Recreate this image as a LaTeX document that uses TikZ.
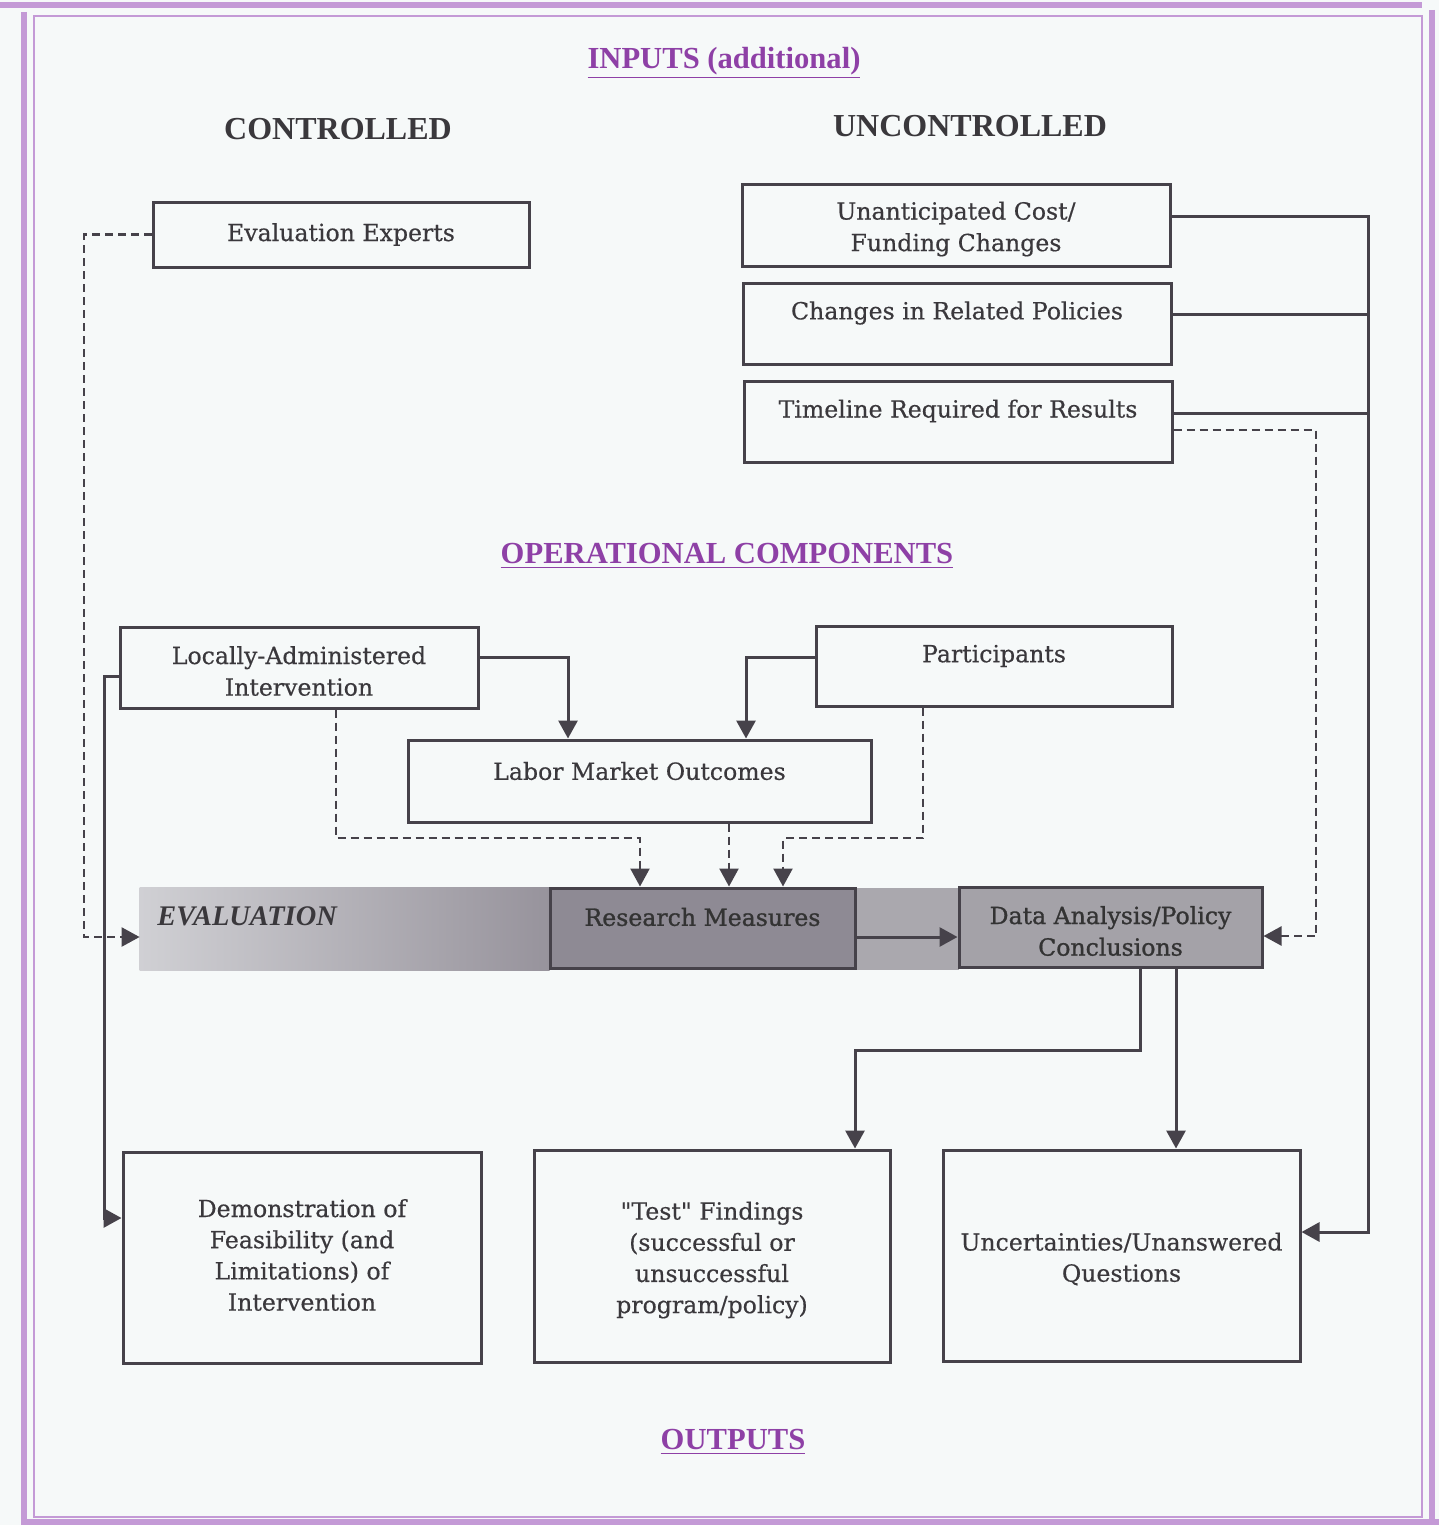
\documentclass[tikz,border=0pt]{standalone}
\usepackage{fontspec}
\setmainfont{DejaVu Serif}
\newfontfamily\boxfont{DejaVu Serif}[FakeBold=0.45]
\newfontfamily\darkfont{DejaVu Serif}[FakeBold=1.1]
\newfontfamily\headfont{Liberation Serif}
\usetikzlibrary{arrows.meta,calc}
\definecolor{ink}{HTML}{46424A}
\definecolor{txt}{HTML}{3A383C}
\definecolor{purp}{HTML}{8E40A6}
\definecolor{framec}{HTML}{C49AD6}
\definecolor{paper}{HTML}{F6F9F9}
\definecolor{bandA}{HTML}{D0D0D4}
\definecolor{bandB}{HTML}{97939C}
\definecolor{rmfill}{HTML}{8E8A94}
\definecolor{gapfill}{HTML}{AAA8AE}
\definecolor{dafill}{HTML}{A4A2A8}
\begin{document}
\begin{tikzpicture}[x=0.5pt,y=-0.5pt,
  box/.style={draw=ink,line width=1.5pt,rectangle,inner sep=0pt,text=txt,align=center,font=\boxfont\fontsize{11.8}{15.8}\selectfont},
  lbl/.style={text=txt,align=center,font=\boxfont\fontsize{11.8}{15.8}\selectfont,inner sep=0pt},
  conn/.style={draw=ink,line width=1.5pt},
  dsh/.style={draw=ink,line width=1.2pt,dash pattern=on 4pt off 2.5pt},
  tip/.style={-{Triangle[length=9pt,width=9.5pt]}},
  titl/.style={font=\headfont\bfseries\fontsize{15.3}{18}\selectfont,text=purp,inner sep=0pt},
  colhead/.style={font=\headfont\bfseries\fontsize{16}{19}\selectfont,text=txt,inner sep=0pt}]
\useasboundingbox (0,0) rectangle (1439,1525);
\fill[paper] (0,0) rectangle (1439,1525);
% frame
\draw[framec,line width=3pt] (0,5) -- (1422,5);
\draw[framec,line width=3pt] (24,12) -- (24,1525);
\draw[framec,line width=3pt] (1432,10) -- (1432,1525);
\draw[framec,line width=3pt] (26,1522) -- (1439,1522);
\draw[framec,line width=0.6pt] (34,16) rectangle (1422,1517);
% titles
\node[titl] (tin) at (724,63) {\underline{INPUTS (additional)}};
\node[colhead] (tc) at (338,129) {CONTROLLED};
\node[colhead] (tu) at (970,126) {UNCONTROLLED};
\node[titl] (top) at (727,556) {\underline{OPERATIONAL COMPONENTS}};
\node[titl] (tout) at (733,1442) {\underline{OUTPUTS}};
% input boxes
\node[box,minimum width=188pt,minimum height=32.5pt] (ee) at (341,234.5) {Evaluation Experts};
\node[box,minimum width=214pt,minimum height=41pt] (uc) at (956,225) {};
\node[lbl] at (956,229) {Unanticipated Cost/\\Funding Changes};
\node[box,minimum width=214pt,minimum height=40.5pt] (cp) at (957,323.5) {};
\node[lbl] at (957,313) {Changes in Related Policies};
\node[box,minimum width=214pt,minimum height=40.5pt] (tl) at (958,421.5) {};
\node[lbl] at (958,411) {Timeline Required for Results};
% operational boxes
\node[box,minimum width=179pt,minimum height=40.5pt] (la) at (299,667.5) {};
\node[lbl] at (299,671) {Locally-Administered\\Intervention};
\node[box,minimum width=178pt,minimum height=40pt] (pa) at (994,666) {};
\node[lbl] at (994,656) {Participants};
\node[box,minimum width=231.5pt,minimum height=41pt] (lm) at (639.5,781) {};
\node[lbl] at (639.5,771) {Labor Market Outcomes};
% evaluation band
\node[minimum width=561pt,minimum height=41pt,inner sep=0pt] (band) at (701,929) {};
\shade[left color=bandA,right color=bandB] (band.north west) rectangle ($(band.south west)+(410,0)$);
\fill[gapfill] ($(band.north west)+(715,0)$) rectangle ($(band.south west)+(819,0)$);
\node[anchor=west,font=\headfont\bfseries\itshape\fontsize{14.2}{16}\selectfont,text=txt,inner sep=0pt] (ev) at (157,916) {EVALUATION};
\node[box,fill=rmfill,minimum width=152.5pt,minimum height=40pt] (rm) at (702.5,928) {};
\node[lbl,font=\darkfont\fontsize{11.8}{15.8}\selectfont,text=black!80] at (702.5,917) {Research Measures};
\node[box,fill=dafill,minimum width=151.5pt,minimum height=40pt] (da) at (1110.5,927) {};
\node[lbl,font=\darkfont\fontsize{11.8}{15.8}\selectfont,text=black!80] at (1110.5,931) {Data Analysis/Policy\\Conclusions};
% outputs
\node[box,minimum width=179pt,minimum height=105.5pt] (dm) at (302,1257.5) {};
\node[lbl,font=\boxfont\fontsize{11.8}{15.6}\selectfont] at (302,1255) {Demonstration of\\Feasibility (and\\Limitations) of\\Intervention};
\node[box,minimum width=178pt,minimum height=106pt] (tf) at (712,1256) {};
\node[lbl,font=\boxfont\fontsize{11.8}{15.6}\selectfont] at (712,1260) {{\char34}Test{\char34} Findings\\(successful or\\unsuccessful\\program/policy)};
\node[box,minimum width=178.5pt,minimum height=105.5pt] (un) at (1121.5,1255.5) {};
\node[lbl,font=\boxfont\fontsize{11.8}{15.6}\selectfont] at (1121.5,1259) {Uncertainties/Unanswered\\Questions};
% connectors
\draw[dsh,tip] (ee.west) -| (84,937) -- ($(band.west)+(0,8)$);
\draw[conn,tip] ($(la.west)+(0,8.5)$) -| (104,1218) -- ($(dm.west)+(0,-39.5)$);
\draw[conn,tip] ($(la.east)+(0,-10.5)$) -| ($(lm.north)+(-71.5,0)$);
\draw[conn,tip] ($(pa.west)+(0,-9)$) -| ($(lm.north)+(106.5,0)$);
\draw[dsh,tip] ($(la.south)+(37,0)$) |- (640,838) -- ($(rm.north)+(-62.5,0)$);
\draw[dsh,tip] ($(lm.south)+(89.5,0)$) -- ($(rm.north)+(26.5,0)$);
\draw[dsh,tip] ($(pa.south)+(-71,0)$) |- (783,838) -- ($(rm.north)+(80.5,0)$);
\draw[conn,tip] ($(rm.east)+(0,9)$) -- ($(da.west)+(0,10)$);
\draw[dsh,tip] ($(tl.east)+(0,8.5)$) -| (1316,936) -- ($(da.east)+(0,9)$);
\draw[conn,tip] ($(uc.east)+(0,-9)$) -| (1368,1232) -- ($(un.east)+(0,-23.5)$);
\draw[conn] ($(cp.east)+(0,-9.5)$) -- (1368,314);
\draw[conn] ($(tl.east)+(0,-8.5)$) -- (1368,413);
\draw[conn,tip] ($(da.south)+(29.5,0)$) |- (855,1050) -- ($(tf.north)+(143,0)$);
\draw[conn,tip] ($(da.south)+(65.5,0)$) -- ($(un.north)+(54.5,0)$);
\end{tikzpicture}
\end{document}
